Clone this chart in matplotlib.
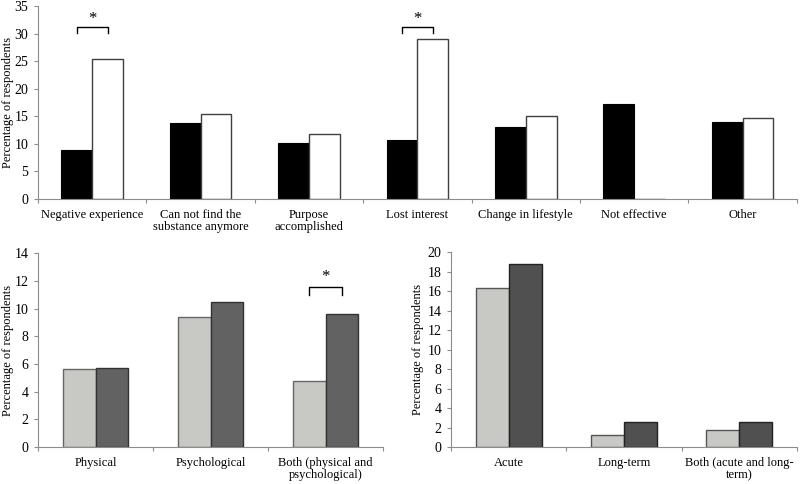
import numpy as np
import matplotlib.pyplot as plt

plt.rcParams['font.family'] = ['Liberation Serif', 'DejaVu Serif']

# top panel: reasons for stopping
top_cats = ['Negative experience', 'Can not find the\nsubstance anymore', 'Purpose\naccomplished',
            'Lost interest', 'Change in lifestyle', 'Not effective', 'Other']
top_black = [8.9, 13.7, 10.1, 10.7, 13.1, 17.3, 14.0]
top_white = [25.3, 15.4, 11.7, 29.0, 15.1, 0.0, 14.7]
top_sig = [0, 3]

# bottom left: type of effect
bl_cats = ['Physical', 'Psychological', 'Both (physical and\npsychological)']
bl_light = [5.6, 9.4, 4.8]
bl_dark = [5.7, 10.5, 9.6]
bl_sig = [2]

# bottom right: duration of effect
br_cats = ['Acute', 'Long-term', 'Both (acute and long-\nterm)']
br_light = [16.3, 1.2, 1.7]
br_dark = [18.8, 2.6, 2.6]

width = 0.285
spine_col = '#8c8c8c'


def style_ax(ax, cats, ymax, ystep, label_x):
    n = len(cats)
    ax.set_xlim(-0.5, n - 0.5)
    ax.set_ylim(0, ymax)
    ax.set_yticks(np.arange(0, ymax + 0.1, ystep))
    ax.set_xticks(np.arange(n + 1) - 0.5)
    ax.set_xticklabels([])
    ax.set_xticks(np.arange(n), minor=True)
    ax.set_xticklabels(cats, minor=True, fontsize=9, linespacing=1.05)
    ax.tick_params(axis='x', which='minor', length=0, pad=7)
    ax.tick_params(axis='x', which='major', length=3, color=spine_col)
    ax.tick_params(axis='y', length=3, color=spine_col, labelsize=10, pad=4)
    for s in ['top', 'right']:
        ax.spines[s].set_visible(False)
    for s in ['left', 'bottom']:
        ax.spines[s].set_color(spine_col)
    ax.set_ylabel('Percentage of respondents', fontsize=9, va='center')
    ax.yaxis.set_label_coords(label_x, 0.5)


def bracket(ax, i, y, h, sy):
    x0 = i - width / 2
    x1 = i + width / 2
    ax.plot([x0, x0, x1, x1], [y - h, y, y, y - h], color='black', lw=1)
    ax.text(i, sy, '*', ha='center', va='center', fontsize=12)


fig = plt.figure(figsize=(8, 4.84), dpi=100)
ax1 = fig.add_axes([0.0475, 0.589, 0.9485, 0.3986])
ax2 = fig.add_axes([0.0475, 0.0764, 0.4315, 0.4006])
ax3 = fig.add_axes([0.564, 0.0764, 0.432, 0.4026])

x = np.arange(len(top_cats))
ax1.bar(x - width / 2, top_black, width, color='black', edgecolor='black', lw=0.8)
ax1.bar(x + width / 2, top_white, width, color='white', edgecolor='#404040', lw=1)
style_ax(ax1, top_cats, 35, 5, -0.039)
for i in top_sig:
    bracket(ax1, i, 31.2, 1.1, 32.6)

x = np.arange(len(bl_cats))
ax2.bar(x - width / 2, bl_light, width, color='#c8c8c4', edgecolor='#666666', lw=1)
ax2.bar(x + width / 2, bl_dark, width, color='#626262', edgecolor='#333333', lw=1)
style_ax(ax2, bl_cats, 14, 2, -0.086)
for i in bl_sig:
    bracket(ax2, i, 11.55, 0.55, 12.25)

x = np.arange(len(br_cats))
ax3.bar(x - width / 2, br_light, width, color='#c8c8c4', edgecolor='#555555', lw=1)
ax3.bar(x + width / 2, br_dark, width, color='#505050', edgecolor='#222222', lw=1)
style_ax(ax3, br_cats, 20, 2, -0.095)

fig.savefig('out.png', dpi=100)
